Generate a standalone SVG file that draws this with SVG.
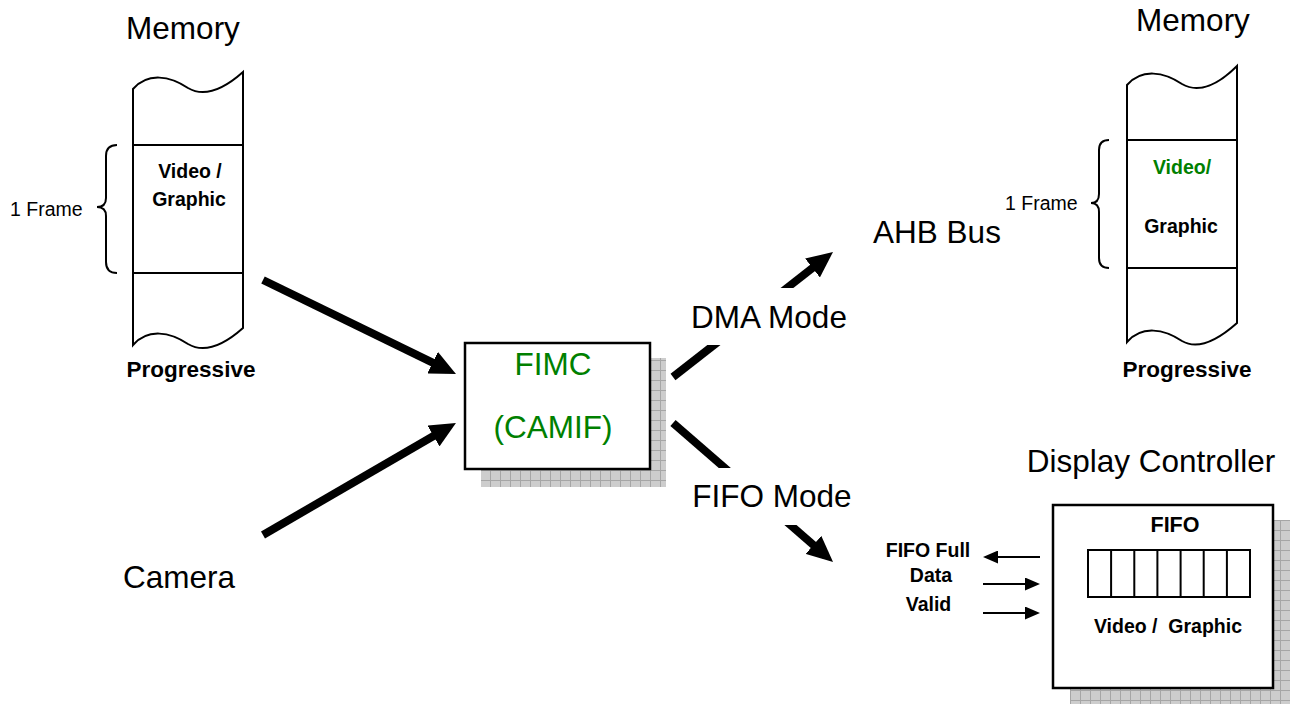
<svg xmlns="http://www.w3.org/2000/svg" width="1294" height="704" viewBox="0 0 1294 704">
<style>
text{font-family:"Liberation Sans",Arial,sans-serif;fill:#000}
.big{font-size:31.5px}
.b{font-weight:bold}
.sm{font-size:19.5px}
.green{fill:#008000}
.col{fill:#fff;stroke:#000;stroke-width:2}
.ln{stroke:#000;stroke-width:2;fill:none}
.box{fill:#fff;stroke:#000;stroke-width:2.5}
.thick{stroke:#000;stroke-width:8;fill:none}
.thin{stroke:#000;stroke-width:2;fill:none}
</style>
<defs>
<pattern id="grid" width="10" height="10" patternUnits="userSpaceOnUse">
<rect width="10" height="10" fill="#cdcdcd"/>
<path d="M0,0.5H10M0.5,0V10" stroke="#a6a6a6" stroke-width="1"/>
</pattern>
<marker id="bigArrow" markerUnits="userSpaceOnUse" markerWidth="26" markerHeight="24" refX="16" refY="12" orient="auto">
<path d="M0,0L26,12L0,24z" fill="#000"/>
</marker>
<marker id="smallArrow" markerUnits="userSpaceOnUse" markerWidth="15" markerHeight="13" refX="12" refY="6.5" orient="auto">
<path d="M0,0L15,6.5L0,13z" fill="#000"/>
</marker>
</defs>

<g id="memory-left">
<text class="big" x="183" y="39" text-anchor="middle">Memory</text>
<path class="col" d="M133,89 C148,72 170,76 188,88 C205,98 225,88 243,72 L243,328 C225,344 205,354 188,344 C170,332 148,328 133,345 Z"/>
<path class="ln" d="M133,145H243M133,273H243"/>
<text class="b sm" x="190" y="178" text-anchor="middle">Video /</text>
<text class="b sm" x="189" y="206" text-anchor="middle">Graphic</text>
<path class="ln" d="M117,145 Q106,145 106,156 L106,198 Q106,207 97,207 Q106,207 106,216 L106,262 Q106,273 117,273"/>
<text class="sm" x="10" y="216">1 Frame</text>
<text class="b" x="191" y="377" font-size="22.5" text-anchor="middle">Progressive</text>
</g>

<g id="camera">
<text class="big" x="179" y="588" text-anchor="middle">Camera</text>
</g>

<g id="fimc">
<rect x="481" y="358" width="185" height="129" fill="url(#grid)"/>
<rect class="box" x="465" y="343" width="185" height="126"/>
<text class="big green" x="553" y="375" text-anchor="middle">FIMC</text>
<text class="big green" x="553" y="438" text-anchor="middle">(CAMIF)</text>
</g>

<g id="ahb-bus">
<text class="big" x="937" y="243" text-anchor="middle">AHB Bus</text>
</g>

<g id="memory-right">
<text class="big" x="1193" y="31" text-anchor="middle">Memory</text>
<path class="col" d="M1127,85 C1142,68 1164,72 1182,84 C1199,94 1219,84 1237,66 L1237,323 C1219,339 1199,351 1182,341 C1164,329 1142,325 1127,342 Z"/>
<path class="ln" d="M1127,140H1237M1127,268H1237"/>
<text class="b sm green" x="1182" y="174" text-anchor="middle">Video/</text>
<text class="b sm" x="1181" y="233" text-anchor="middle">Graphic</text>
<path class="ln" d="M1109,140 Q1099,140 1099,150 L1099,194 Q1099,203 1091,203 Q1099,203 1099,212 L1099,258 Q1099,268 1109,268"/>
<text class="sm" x="1005" y="210">1 Frame</text>
<text class="b" x="1187" y="377" font-size="22.5" text-anchor="middle">Progressive</text>
</g>

<g id="display-controller">
<text class="big" x="1151" y="472" text-anchor="middle">Display Controller</text>
<rect x="1070" y="520" width="220" height="184" fill="url(#grid)"/>
<rect class="box" x="1053" y="505" width="220" height="183"/>
<text class="b" x="1175" y="532" font-size="21.5" text-anchor="middle">FIFO</text>
<rect class="ln" x="1088" y="550" width="162" height="47"/>
<path class="ln" d="M1111.1,550V597M1134.3,550V597M1157.4,550V597M1180.6,550V597M1203.7,550V597M1226.9,550V597"/>
<text class="b sm" x="1168" y="633" text-anchor="middle" xml:space="preserve">Video /  Graphic</text>
<text class="b sm" x="928" y="557" text-anchor="middle">FIFO Full</text>
<text class="b sm" x="931" y="582" text-anchor="middle">Data</text>
<text class="b sm" x="928.5" y="611" text-anchor="middle">Valid</text>
</g>

<g id="connectors">
<path class="thick" d="M263,280L447,369.6" marker-end="url(#bigArrow)"/>
<path class="thick" d="M263,535L447.3,428" marker-end="url(#bigArrow)"/>
<path class="thick" d="M673,377L825.1,258.2" marker-end="url(#bigArrow)"/>
<path class="thick" d="M673,423L825.5,555.4" marker-end="url(#bigArrow)"/>
<path class="thin" d="M1040,557H986" marker-end="url(#smallArrow)"/>
<path class="thin" d="M983,584H1037" marker-end="url(#smallArrow)"/>
<path class="thin" d="M983,613H1037" marker-end="url(#smallArrow)"/>
</g>

<g id="dma-mode-label">
<rect x="686" y="288" width="166" height="57" fill="#fff"/>
<text class="big" x="769" y="328" text-anchor="middle">DMA Mode</text>
</g>
<g id="fifo-mode-label">
<rect x="688" y="468" width="168" height="57" fill="#fff"/>
<text class="big" x="772" y="507" text-anchor="middle">FIFO Mode</text>
</g>
</svg>
